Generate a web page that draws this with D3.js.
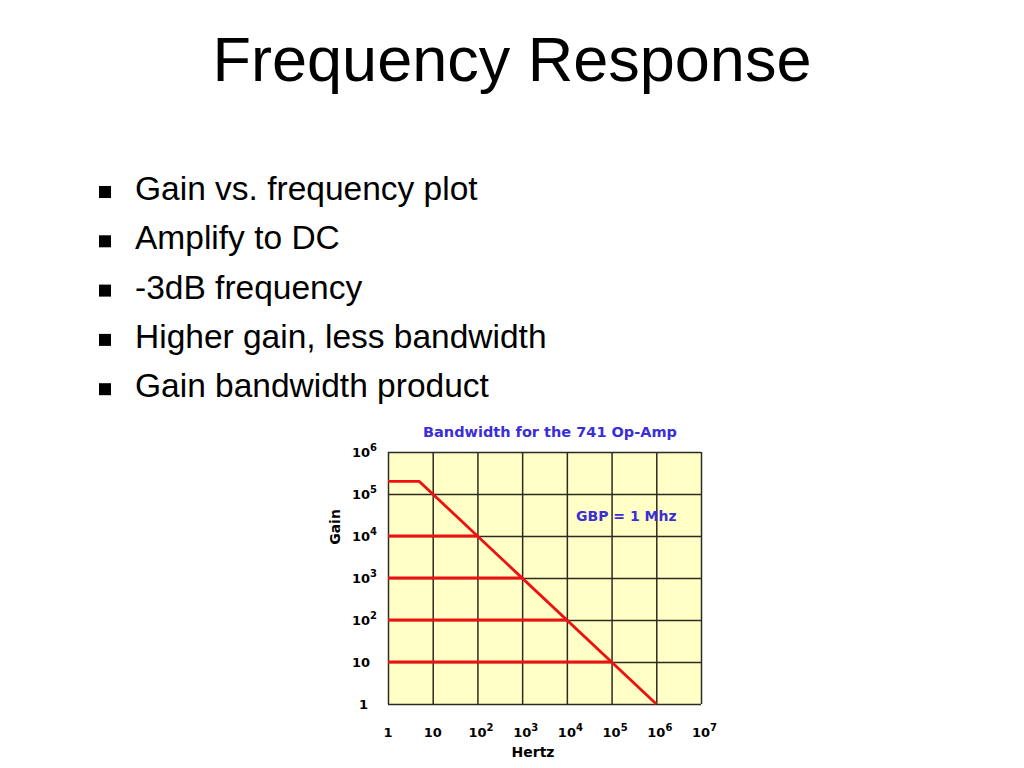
<!DOCTYPE html>
<html>
<head>
<meta charset="utf-8">
<script src="https://cdn.jsdelivr.net/npm/d3@7"></script>
<style>
  body { margin: 0; background: white; }
  svg { display: block; }
</style>
</head>
<body>
<div id="vue"></div>
<script>
// Données du graphique
var slideTitle = "Frequency Response";
var bullets = ["Gain vs. frequency plot", "Amplify to DC", "-3dB frequency",
               "Higher gain, less bandwidth", "Gain bandwidth product"];
var chartTitle = "Bandwidth for the 741 Op-Amp";
var gbpLabel = "GBP = 1 Mhz";

var freqTicks = [1, 10, 1e2, 1e3, 1e4, 1e5, 1e6, 1e7];
var gainTicks = [1, 10, 1e2, 1e3, 1e4, 1e5, 1e6];

// courbe de réponse en boucle ouverte
var responseFreq = [1, 5, 1e6];
var responseGain = [2e5, 2e5, 1];

// gains en boucle fermée et leur fréquence de coupure
var closedGain = [1e4, 1e3, 1e2, 10];
var closedCutoff = [1e2, 1e3, 1e4, 1e5];

var width = 1024, height = 768;
var svg = d3.select("#vue").append("svg")
            .attr("width", width)
            .attr("height", height);

// Titre de la diapo
svg.append("text")
   .attr("x", 512).attr("y", 81)
   .attr("text-anchor", "middle")
   .style("font-family", "Liberation Sans, Arial, sans-serif")
   .style("font-size", "63px")
   .text(slideTitle);

// Puces
var items = svg.append("g").selectAll("g.item")
               .data(bullets)
               .enter().append("g")
               .attr("class", "item")
               .attr("transform", function (d, i) { return "translate(0," + (200 + i * 49.3) + ")"; });
items.append("rect")
     .attr("x", 99).attr("y", -14)
     .attr("width", 12).attr("height", 12)
     .attr("fill", "black");
items.append("text")
     .attr("x", 135).attr("y", 0)
     .style("font-family", "Liberation Sans, Arial, sans-serif")
     .style("font-size", "33.5px")
     .text(function (d) { return d; });

// Graphique
var x = d3.scaleLog().domain([1, 1e7]).range([388, 701]);
var y = d3.scaleLog().domain([1, 1e6]).range([704, 452]);
var boldFont = "DejaVu Sans, Verdana, sans-serif";
var blue = "#3a2fd6";

svg.append("rect")
   .attr("x", x(1)).attr("y", y(1e6))
   .attr("width", x(1e7) - x(1)).attr("height", y(1) - y(1e6))
   .attr("fill", "#ffffc6");

// grille
svg.append("g")
   .attr("transform", "translate(0," + y(1) + ")")
   .call(d3.axisBottom(x).tickValues(freqTicks).tickSize(y(1) - y(1e6)).tickFormat(""))
   .call(function (g) { g.select(".domain").remove(); })
   .selectAll("line")
   .attr("y2", -(y(1) - y(1e6)))
   .attr("stroke", "#2b2b22").attr("stroke-width", 1.5);

svg.append("g")
   .attr("transform", "translate(" + x(1) + ",0)")
   .call(d3.axisLeft(y).tickValues(gainTicks).tickSize(-(x(1e7) - x(1))).tickFormat(""))
   .call(function (g) { g.select(".domain").remove(); })
   .selectAll("line")
   .attr("stroke", "#2b2b22").attr("stroke-width", 1.5);

// lignes rouges horizontales
svg.append("g").selectAll("line")
   .data(closedGain)
   .enter().append("line")
   .attr("x1", x(1))
   .attr("x2", function (d, i) { return x(closedCutoff[i]); })
   .attr("y1", function (d) { return y(d); })
   .attr("y2", function (d) { return y(d); })
   .attr("stroke", "#f01010").attr("stroke-width", 2.8);

var line = d3.line()
             .x(function (d) { return x(d); })
             .y(function (d, i) { return y(responseGain[i]); });
svg.append("path")
   .attr("d", line(responseFreq))
   .attr("fill", "none")
   .attr("stroke", "#f01010").attr("stroke-width", 2.8);

// étiquettes avec exposants
function powLabel(sel, v) {
  var e = Math.round(Math.log10(v));
  if (e <= 1) { sel.text(v); return; }
  sel.append("tspan").text("10");
  sel.append("tspan").attr("dy", -6).style("font-size", "10px").text(e);
}

svg.append("g").selectAll("text")
   .data(freqTicks)
   .enter().append("text")
   .attr("x", function (d) { return x(d) - (d >= 100 ? 9 : 0); })
   .attr("y", 737)
   .attr("text-anchor", function (d) { return d >= 100 ? "start" : "middle"; })
   .style("font-family", boldFont).style("font-weight", "bold").style("font-size", "13px")
   .each(function (d) { powLabel(d3.select(this), d); });

svg.append("g").selectAll("text")
   .data(gainTicks)
   .enter().append("text")
   .attr("x", function (d) { return d >= 10 ? 352 : 359; })
   .attr("y", function (d) { return y(d) + 5; })
   .style("font-family", boldFont).style("font-weight", "bold").style("font-size", "13px")
   .each(function (d) { powLabel(d3.select(this), d); });

// titres des axes
svg.append("text")
   .attr("x", 533).attr("y", 757)
   .attr("text-anchor", "middle")
   .style("font-family", boldFont).style("font-weight", "bold").style("font-size", "14px")
   .text("Hertz");
svg.append("text")
   .attr("transform", "translate(340,527) rotate(-90)")
   .attr("text-anchor", "middle")
   .style("font-family", boldFont).style("font-weight", "bold").style("font-size", "14px")
   .text("Gain");

svg.append("text")
   .attr("x", 550).attr("y", 437)
   .attr("text-anchor", "middle")
   .style("font-family", boldFont).style("font-weight", "bold").style("font-size", "14.5px")
   .attr("fill", blue)
   .text(chartTitle);
svg.append("text")
   .attr("x", 576).attr("y", 521)
   .style("font-family", boldFont).style("font-weight", "bold").style("font-size", "14px")
   .attr("fill", blue)
   .text(gbpLabel);
</script>
</body>
</html>
